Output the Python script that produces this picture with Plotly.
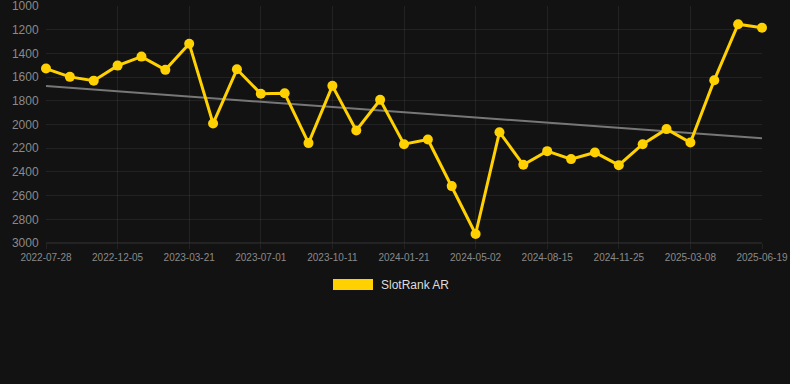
import numpy as np
import plotly.graph_objects as go

tick_labels = ["2022-07-28", "2022-12-05", "2023-03-21", "2023-07-01", "2023-10-11",
               "2024-01-21", "2024-05-02", "2024-08-15", "2024-11-25", "2025-03-08", "2025-06-19"]
y_ticks = [1000, 1200, 1400, 1600, 1800, 2000, 2200, 2400, 2600, 2800, 3000]
rank = [1528, 1598, 1630, 1503, 1427, 1539, 1318, 1992, 1534, 1740, 1737,
        2157, 1674, 2051, 1792, 2166, 2127, 2520, 2924, 2065, 2340, 2225,
        2292, 2236, 2343, 2166, 2039, 2152, 1626, 1154, 1183]
series_name = "SlotRank AR"

idx = np.arange(len(rank))
slope, intercept = np.polyfit(idx, rank, 1)
trend = slope * idx + intercept

fig = go.Figure()
fig.add_trace(go.Scatter(x=idx, y=trend, mode="lines",
                         line=dict(color="#777777", width=2), showlegend=False, hoverinfo="skip"))
fig.add_trace(go.Scatter(x=idx, y=rank, mode="lines+markers", name=series_name,
                         line=dict(color="#FFD100", width=3),
                         marker=dict(color="#FFD100", size=10), showlegend=False,
                         cliponaxis=False))

grid = "rgba(255,255,255,0.07)"
fig.update_layout(
    width=790, height=384,
    margin=dict(l=46, r=28, t=6, b=141),
    paper_bgcolor="#121212", plot_bgcolor="#121212",
    font=dict(family="Liberation Sans, Arial, sans-serif", color="#8a8a8a"),
    xaxis=dict(range=[0, len(rank) - 1], tickmode="array",
               tickvals=list(idx[::3]), ticktext=tick_labels, automargin=False,
               ticklabeloverflow="allow",
               showgrid=True, gridcolor=grid, gridwidth=1, zeroline=False,
               showline=False, ticks="outside", ticklen=5, tickcolor=grid,
               tickfont=dict(size=10, color="#8a8a8a"), fixedrange=True),
    yaxis=dict(range=[3000, 1000], tickmode="array", tickvals=y_ticks, automargin=False,
               ticklabeloverflow="allow",
               showgrid=True, gridcolor=grid, zeroline=False, showline=False,
               ticks="outside", ticklen=4, tickcolor="rgba(0,0,0,0)",
               tickfont=dict(size=12, color="#8a8a8a"), fixedrange=True),
    showlegend=False,
)
fig.add_shape(type="line", xref="paper", yref="paper", x0=0, x1=1, y0=0, y1=0,
              line=dict(color="rgba(255,255,255,0.15)", width=1))
fig.add_shape(type="rect", xref="paper", yref="paper",
              x0=(333 - 46) / 716, x1=(373 - 46) / 716,
              y0=-(290 - 243) / 237, y1=-(279 - 243) / 237,
              fillcolor="#FFD100", line=dict(width=0))
fig.add_annotation(xref="paper", yref="paper", x=(379 - 46) / 716, y=-(284.5 - 243) / 237,
                   text=series_name, showarrow=False, xanchor="left", yanchor="middle",
                   font=dict(size=12, color="#dddddd"))
fig.write_html("out.html", config={"displayModeBar": False},
               post_script="document.body.style.margin='0';document.body.style.background='#121212';")
